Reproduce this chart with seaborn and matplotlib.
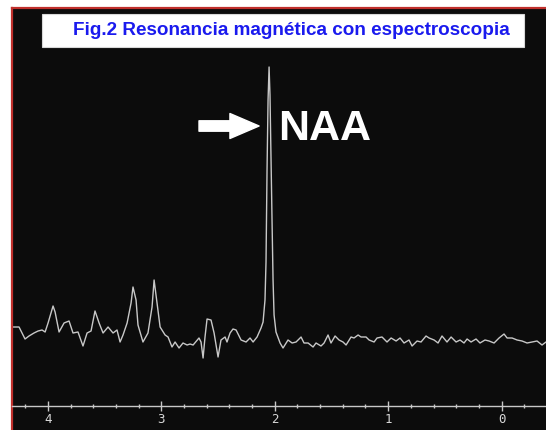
import matplotlib
matplotlib.use("Agg")
import matplotlib.pyplot as plt
import seaborn as sns
import pandas as pd
from matplotlib.patches import Rectangle
from matplotlib.ticker import MultipleLocator

# Spectrum: chemical shift (ppm) and signal (arbitrary units)
ppm = [4.317, 4.255, 4.202, 4.167, 4.123, 4.087, 4.052, 4.025, 3.999, 3.955,
       3.937, 3.902, 3.858, 3.814, 3.779, 3.735, 3.691, 3.655, 3.620, 3.585,
       3.549, 3.514, 3.470, 3.426, 3.391, 3.364, 3.338, 3.302, 3.267, 3.250,
       3.223, 3.206, 3.162, 3.118, 3.082, 3.064, 3.038, 3.011, 2.967, 2.941,
       2.906, 2.879, 2.844, 2.809, 2.773, 2.747, 2.720, 2.668, 2.650, 2.632,
       2.615, 2.597, 2.562, 2.535, 2.500, 2.474, 2.438, 2.421, 2.394, 2.368,
       2.341, 2.297, 2.253, 2.218, 2.191, 2.156, 2.121, 2.103, 2.086, 2.077,
       2.068, 2.059, 2.050, 2.042, 2.033, 2.024, 2.015, 2.006, 1.989, 1.953,
       1.927, 1.883, 1.847, 1.812, 1.768, 1.742, 1.706, 1.662, 1.636, 1.592,
       1.565, 1.530, 1.504, 1.468, 1.433, 1.398, 1.371, 1.327, 1.301, 1.265,
       1.239, 1.195, 1.168, 1.124, 1.098, 1.054, 1.010, 0.974, 0.930, 0.895,
       0.860, 0.816, 0.789, 0.745, 0.710, 0.666, 0.639, 0.595, 0.560, 0.525,
       0.481, 0.445, 0.401, 0.366, 0.331, 0.304, 0.269, 0.225, 0.190, 0.146,
       0.110, 0.066, 0.022, -0.022, -0.049, -0.093, -0.137, -0.181, -0.225, -0.269,
       -0.313, -0.357, -0.392]
signal = [79, 79, 67, 70, 73, 75, 76, 74, 83, 100,
          94, 74, 83, 85, 73, 74, 60, 73, 75, 95,
          83, 73, 79, 73, 76, 64, 71, 83, 103, 119,
          106, 81, 64, 73, 99, 126, 103, 79, 71, 69,
          59, 64, 58, 63, 61, 62, 61, 68, 64, 48,
          69, 87, 86, 73, 49, 66, 69, 64, 73, 77,
          76, 66, 64, 68, 64, 69, 78, 84, 106, 144,
          236, 306, 339, 311, 246, 186, 126, 91, 74, 63,
          58, 66, 63, 64, 69, 63, 63, 59, 63, 60,
          63, 71, 63, 70, 66, 64, 61, 69, 68, 71,
          69, 69, 66, 64, 68, 69, 64, 68, 65, 68,
          63, 66, 60, 65, 64, 70, 68, 66, 63, 70,
          64, 69, 64, 66, 63, 67, 64, 67, 63, 66,
          65, 63, 68, 72, 68, 68, 66, 65, 63, 64,
          65, 61, 64]

major_ticks = [4, 3, 2, 1, 0]
title = "Fig.2 Resonancia magnética con espectroscopia"
peak_label = "NAA"

df = pd.DataFrame({"ppm": ppm, "signal": signal})

sns.set_style("dark")
plt.rcParams["font.family"] = ["Liberation Sans", "DejaVu Sans"]

fig = plt.figure(figsize=(5.46, 4.30), dpi=100, facecolor="white")
ax = fig.add_axes([12 / 546, 0, 534 / 546, 422 / 430])
ax.set_facecolor("#0c0c0c")

sns.lineplot(data=df, x="ppm", y="signal", sort=False, estimator=None,
             color="#c8c8c8", linewidth=1.0, ax=ax)

ax.set_xlim(4.317, -0.392)
ax.set_ylim(-24, 398)
ax.set_xlabel("")
ax.set_ylabel("")
ax.grid(False)

# ppm scale drawn inside the black panel
ax.spines["bottom"].set_position(("data", 0))
ax.spines["bottom"].set_color("#c8c8c8")
ax.spines["bottom"].set_linewidth(1.0)
ax.spines["right"].set_visible(False)
for side in ("left", "top"):
    ax.spines[side].set_color("#c0302c")
    ax.spines[side].set_linewidth(1.6)
ax.set_xticks(major_ticks)
ax.set_xticklabels([str(t) for t in major_ticks])
ax.xaxis.set_minor_locator(MultipleLocator(0.2))
ax.tick_params(axis="x", which="major", direction="inout", length=6.5,
               width=1.0, color="#c8c8c8", labelcolor="#d8d8d8",
               labelsize=9, pad=1.5, bottom=True)
ax.tick_params(axis="x", which="minor", direction="inout", length=3,
               width=1.0, color="#c8c8c8", bottom=True)
for lab in ax.get_xticklabels():
    lab.set_family("DejaVu Sans Mono")
ax.set_yticks([])

# arrow and label for the NAA peak
ax.annotate("", xy=(2.138, 280), xytext=(2.668, 280),
            arrowprops=dict(arrowstyle="simple,head_length=21,head_width=18,tail_width=7.5",
                            mutation_scale=1, color="white", shrinkA=0, shrinkB=0))
ax.text(1.972, 266, peak_label, color="white", fontsize=31, fontweight="bold",
        ha="left", va="baseline")

# title box
fig.patches.append(Rectangle((42 / 546, 1 - 47 / 430), 482 / 546, 33 / 430,
                             transform=fig.transFigure, facecolor="white",
                             edgecolor="#d8d8d8", linewidth=0.8, zorder=5))
fig.text(291 / 546, 1 - 30.5 / 430, title, color="#1a1aee", fontsize=13.6,
         fontweight="bold", ha="center", va="center", zorder=6)

fig.savefig("out.png", dpi=100, facecolor="white")
